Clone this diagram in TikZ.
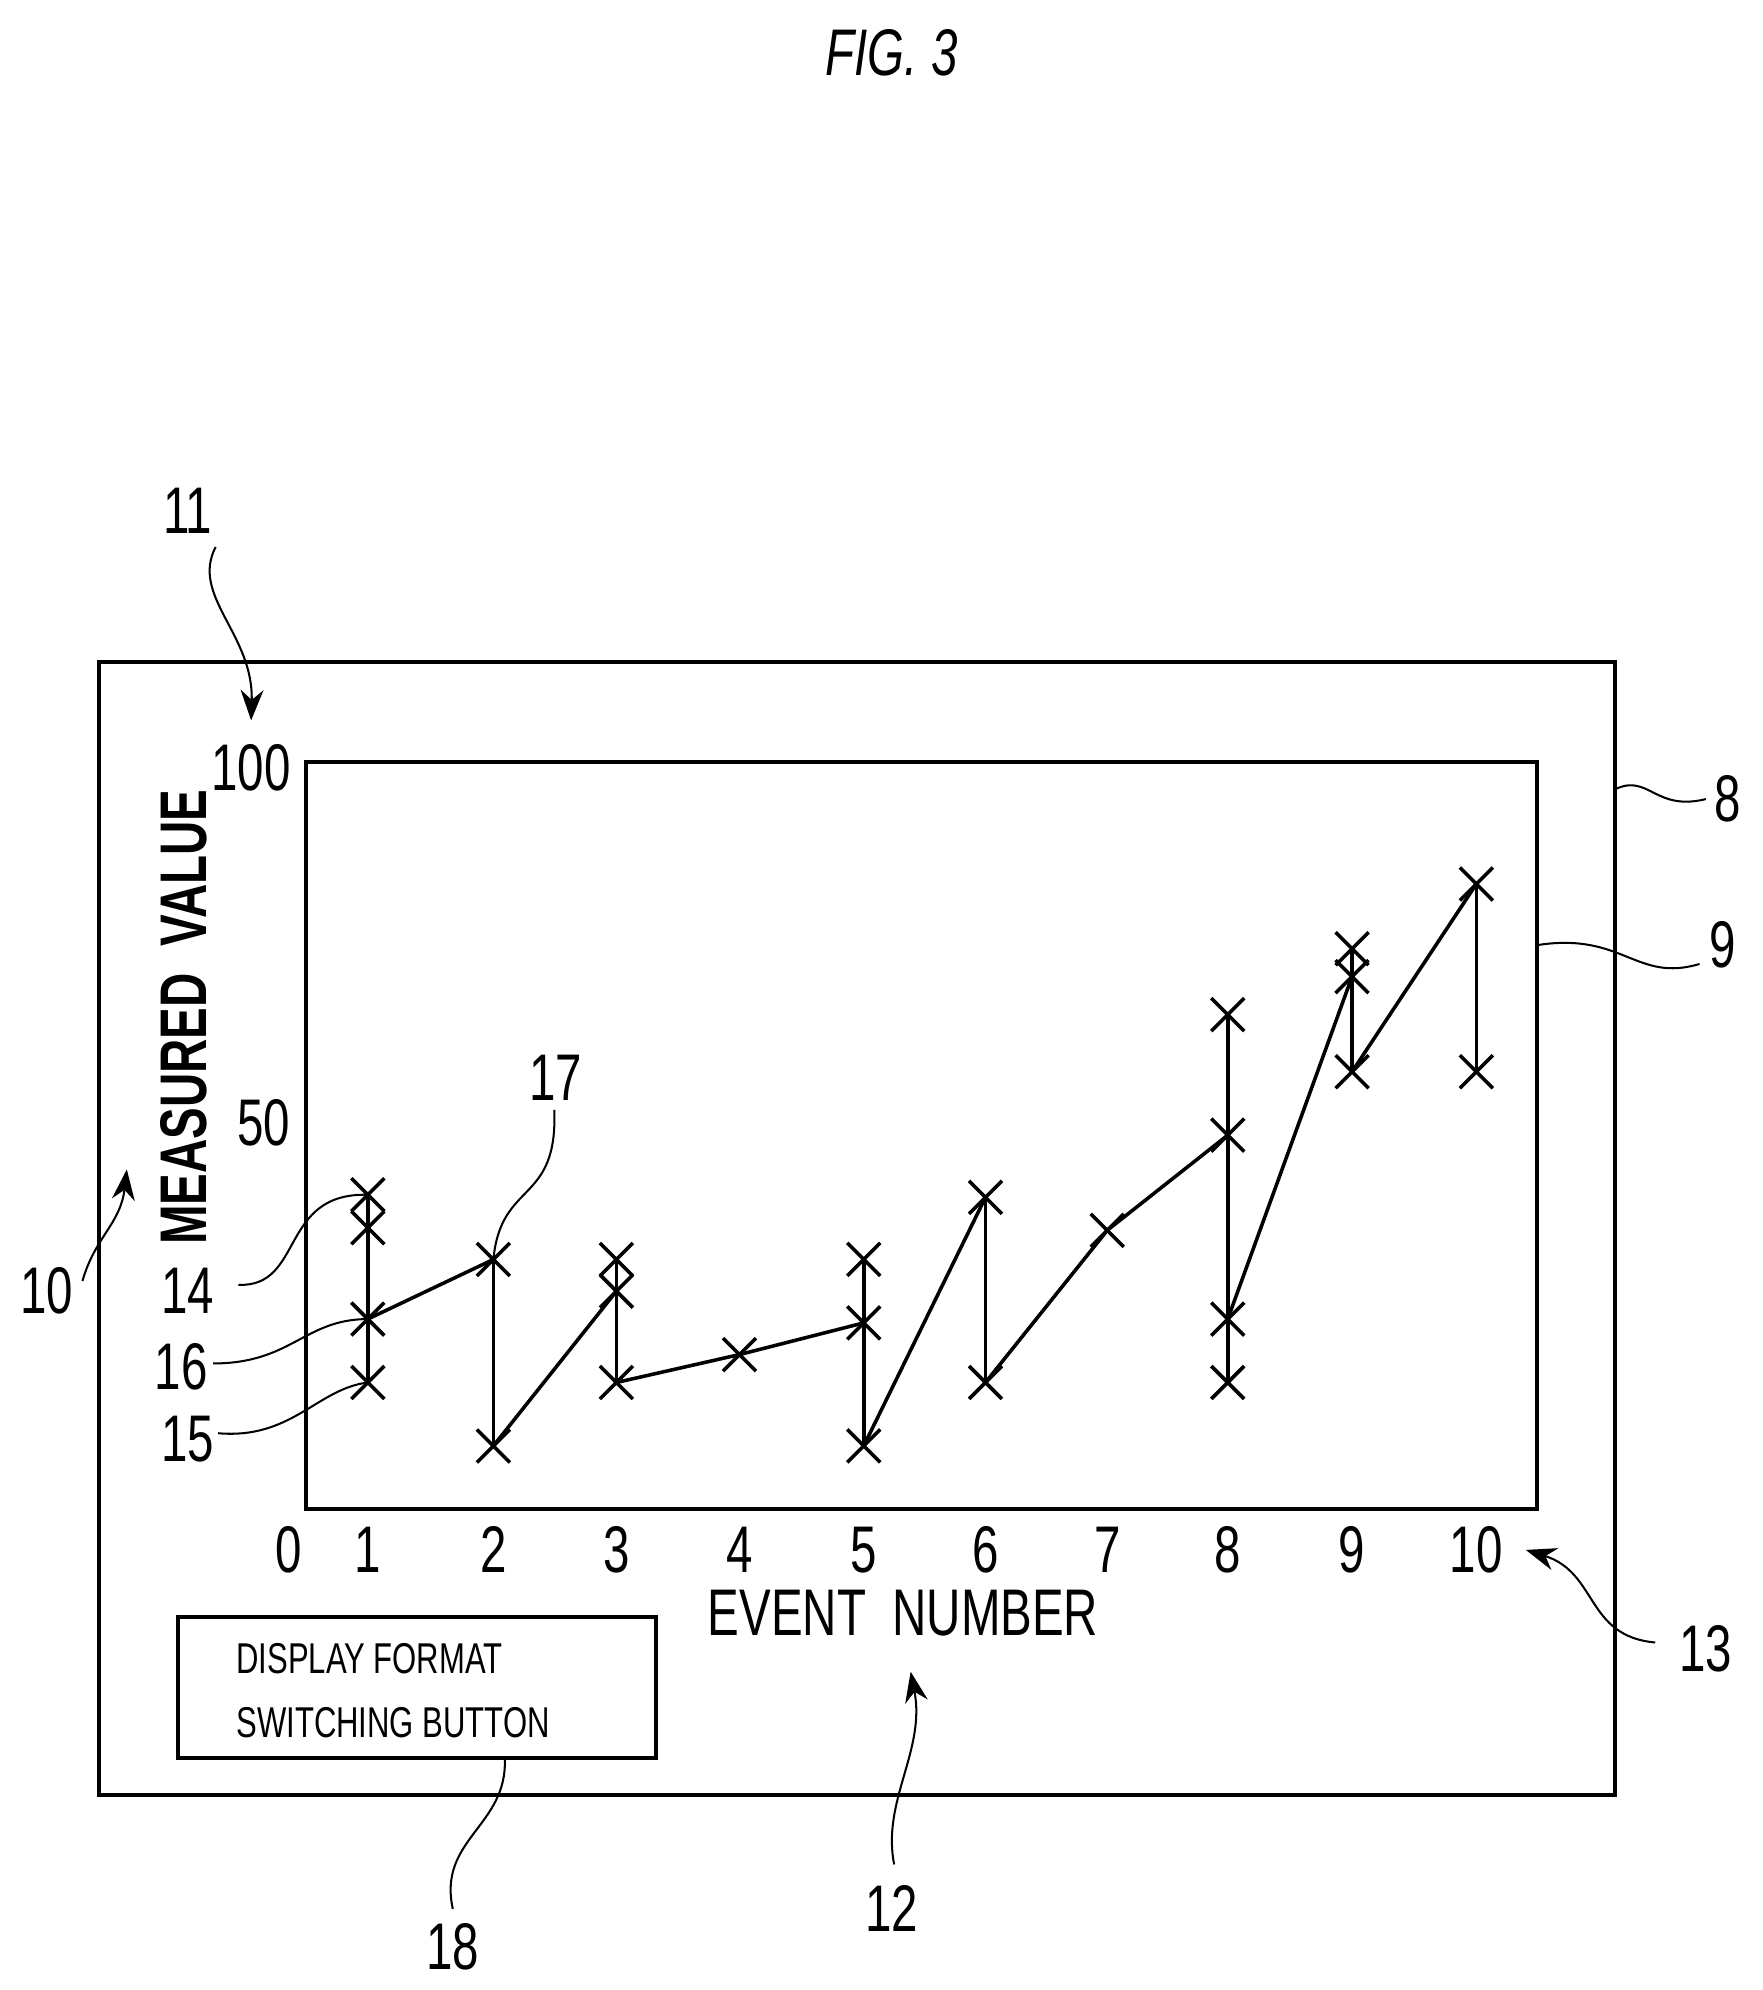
\documentclass[tikz,border=0pt]{standalone}
\usepackage{fontspec}
\usepackage{graphicx}
\setmainfont{Liberation Sans}
\usetikzlibrary{arrows.meta}
\newcommand{\cn}[1]{\scalebox{0.72}[1]{#1}}
\tikzset{
  lbl/.style={inner sep=0pt, font=\fontsize{26}{28}\selectfont},
  btxt/.style={inner sep=0pt, font=\fontsize{17}{19}\selectfont, anchor=west},
  lead/.style={line width=0.8pt},
  arr/.style={line width=0.8pt, -{Stealth[length=12pt,width=9pt]}},
  box/.style={line width=1.6pt},
  dat/.style={line width=1.4pt},
  xm/.style={line width=1.4pt}
}
\newcommand{\xmark}[1]{\draw[xm] ($(#1)+(-13,-13)$) -- ($(#1)+(13,13)$) ($(#1)+(-13,13)$) -- ($(#1)+(13,-13)$);}
\usetikzlibrary{calc}
\begin{document}
\begin{tikzpicture}[x=0.5pt,y=-0.5pt]
\useasboundingbox (0,0) rectangle (1390,1569);
\node[lbl] (fig) at (703,42) {\cn{\itshape FIG. 3}};
\draw[box] (78,522) rectangle (1273,1415);
\draw[box] (241,601) rectangle (1212,1190);
\coordinate (frameR) at (1274,622);
\coordinate (plotR) at (1213,745);
% axis labels
\node[lbl] (y100) at (198,605) {\cn{100}};
\node[lbl] (y50) at (208,885) {\cn{50}};
\node[lbl] (x0) at (228,1222) {\cn{0}};
\foreach \n/\x in {1/290,2/389,3/486,4/583,5/681,6/777,7/873,8/968,9/1066,10/1164}
  \node[lbl] (xl\n) at (\x,1222) {\cn{\n}};
\node[lbl] (xtitle) at (712,1272) {\cn{EVENT\ \ NUMBER}};
\node[lbl, rotate=90] (ytitle) at (145,802) {\cn{\bfseries MEASURED\ \ VALUE}};
% data points
\foreach \nm/\x/\y in {a1/290/942,a2/290/968,a3/290/1040,a4/290/1090,
  b1/389/993,b2/389/1140,c1/486/993,c2/486/1018,c3/486/1090,d1/583/1068,
  e1/681/993,e2/681/1043,e3/681/1140,f1/777/944,f2/777/1090,g1/873/970,
  h1/968/800,h2/968/895,h3/968/1040,h4/968/1090,i1/1066/748,i2/1066/770,i3/1066/845,
  j1/1164/697,j2/1164/845}
  {\coordinate (\nm) at (\x,\y); \xmark{\nm}}
\draw[dat] (a1)--(a4) (b1)--(b2) (c1)--(c3) (e1)--(e3) (f1)--(f2) (h1)--(h4) (i1)--(i3) (j1)--(j2);
\draw[dat] (a3)--(b1) (b2)--(c2) (c3)--(d1)--(e2) (e3)--(f1) (f2)--(g1)--(h2) (h3)--(i2) (i3)--(j1);
% button
\draw[box] (140,1275) rectangle (517,1386);
\node[btxt] (bt1) at (186,1308) {\cn{DISPLAY FORMAT}};
\node[btxt] (bt2) at (186,1358) {\cn{SWITCHING BUTTON}};
\coordinate (btn) at (398,1387);
% reference labels
\node[lbl] (l11) at (148,403) {\cn{11}};
\node[lbl] (l8) at (1362,630) {\cn{8}};
\node[lbl] (l9) at (1358,745) {\cn{9}};
\node[lbl] (l10) at (37,1018) {\cn{10}};
\node[lbl] (l14) at (148,1018) {\cn{14}};
\node[lbl] (l16) at (143,1078) {\cn{16}};
\node[lbl] (l15) at (148,1135) {\cn{15}};
\node[lbl] (l17) at (438,850) {\cn{17}};
\node[lbl] (l13) at (1345,1300) {\cn{13}};
\node[lbl] (l12) at (703,1505) {\cn{12}};
\node[lbl] (l18) at (357,1535) {\cn{18}};
\coordinate (t11) at (198,568); \coordinate (t10) at (100,922);
\coordinate (t13) at (1203,1222); \coordinate (t12) at (718,1318);
\draw[arr] (l11.south) ++(22,10) .. controls (150,470) and (200,500) .. (t11);
\draw[arr] (65,1010) .. controls (75,975) and (95,965) .. (t10);
\draw[arr] (1305,1295) .. controls (1250,1290) and (1260,1240) .. (t13);
\draw[arr] (705,1470) .. controls (695,1420) and (730,1380) .. (t12);
\draw[lead] (frameR) .. controls (1300,610) and (1305,640) .. (1345,630);
\draw[lead] (plotR) .. controls (1280,735) and (1290,775) .. (1340,760);
\draw[lead] (188,1013) .. controls (240,1015) and (220,940) .. (a1);
\draw[lead] (168,1075) .. controls (230,1075) and (240,1040) .. (a3);
\draw[lead] (172,1130) .. controls (230,1135) and (250,1095) .. (a4);
\draw[lead] (437,875) .. controls (440,950) and (395,930) .. (b1);
\draw[lead] (357,1505) .. controls (345,1450) and (400,1440) .. (btn);
\end{tikzpicture}
\end{document}
